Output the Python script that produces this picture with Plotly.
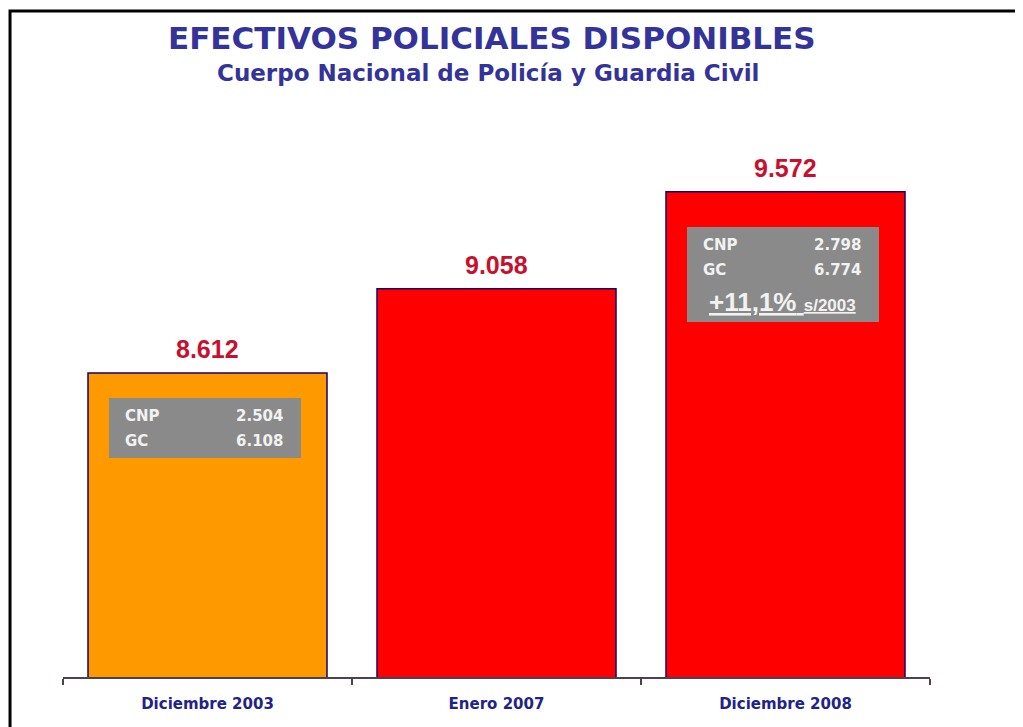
import plotly.graph_objects as go

categories = ["Diciembre 2003", "Enero 2007", "Diciembre 2008"]
totals = [8612, 9058, 9572]
total_labels = ["8.612", "9.058", "9.572"]
bar_colors = ["#FF9900", "#FF0000", "#FF0000"]
cnp = ["2.504", None, "2.798"]
gc = ["6.108", None, "6.774"]
variation_text = "+11,1%"
variation_ref = "s/2003"
title = "EFECTIVOS POLICIALES DISPONIBLES"
subtitle = "Cuerpo Nacional de Policía y Guardia Civil"

TITLE_BLUE = "#333399"
LABEL_RED = "#c8102e"
BOX_GRAY = "#8a8a8a"
BOX_TEXT = "#f2f2f2"

fig = go.Figure(go.Bar(
    x=categories, y=totals,
    marker=dict(color=bar_colors, line=dict(color="#1a0066", width=1.5)),
    hoverinfo="skip",
))

ann = []
# value labels
for c, v, t in zip(categories, totals, total_labels):
    ann.append(dict(x=c, y=v, text=f"<b>{t}</b>", showarrow=False, yanchor="middle",
                    yshift=24, font=dict(family="Liberation Sans, Arial", size=25, color=LABEL_RED)))

# gray boxes with breakdown
for i, (c, v) in enumerate(zip(categories, totals)):
    if cnp[i] is None:
        continue
    has_var = i == 2
    top = 35 if has_var else 25
    h = 95 if has_var else 60
    ann.append(dict(x=c, y=v, text=" ", showarrow=False, yanchor="top", xanchor="center",
                    xshift=-2.5, yshift=-top, width=192, height=h, bgcolor=BOX_GRAY,
                    borderpad=0, borderwidth=0, font=dict(size=1)))
    rows = [("CNP", cnp[i]), ("GC", gc[i])]
    for r, (lab, val) in enumerate(rows):
        dy = top + 18 + 25 * r
        ann.append(dict(x=c, y=v, text=f"<b>{lab}</b>", showarrow=False, xanchor="left",
                        yanchor="middle", xshift=-85, yshift=-dy,
                        font=dict(family="DejaVu Sans", size=15, color=BOX_TEXT)))
        ann.append(dict(x=c, y=v, text=f"<b>{val}</b>", showarrow=False, xanchor="right",
                        yanchor="middle", xshift=77, yshift=-dy,
                        font=dict(family="DejaVu Sans", size=15, color=BOX_TEXT)))
    if has_var:
        ann.append(dict(x=c, y=v,
                        text=f"<u><b>{variation_text}</b> <span style='font-size:17px'><b>{variation_ref}</b></span></u>",
                        showarrow=False, xanchor="center", yanchor="middle", xshift=-3, yshift=-(top + 75),
                        font=dict(family="Liberation Sans, Arial", size=26, color=BOX_TEXT)))

# titles
ann.append(dict(xref="paper", yref="paper", x=0.5, y=1.0, xshift=-5, yshift=92, text=f"<b>{title}</b>",
                showarrow=False, yanchor="middle",
                font=dict(family="DejaVu Sans", size=31, color=TITLE_BLUE)))
ann.append(dict(xref="paper", yref="paper", x=0.5, y=1.0, xshift=-9, yshift=57, text=f"<b>{subtitle}</b>",
                showarrow=False, yanchor="middle",
                font=dict(family="DejaVu Sans", size=23, color=TITLE_BLUE)))

fig.update_layout(
    width=1015, height=719,
    margin=dict(l=55, r=93, t=122, b=50),
    paper_bgcolor="white", plot_bgcolor="white",
    bargap=0.173,
    showlegend=False,
    annotations=ann,
    shapes=[dict(type="rect", xref="paper", yref="paper", x0=-0.0611, x1=1.3, y0=-0.3, y1=1.2175,
                 line=dict(color="black", width=3), layer="above")],
    xaxis=dict(
        showline=True, linecolor="#4d4050", linewidth=1.5,
        ticks="outside", tickson="boundaries", ticklen=6, tickcolor="#4d4050", tickwidth=1.5,
        ticklabelstandoff=12,
        tickfont=dict(family="DejaVu Sans", size=15, color="#222288", weight="bold"),
        showgrid=False, fixedrange=True,
    ),
    yaxis=dict(visible=False, range=[7000, 9900], fixedrange=True),
)

fig.write_html("out.html")
